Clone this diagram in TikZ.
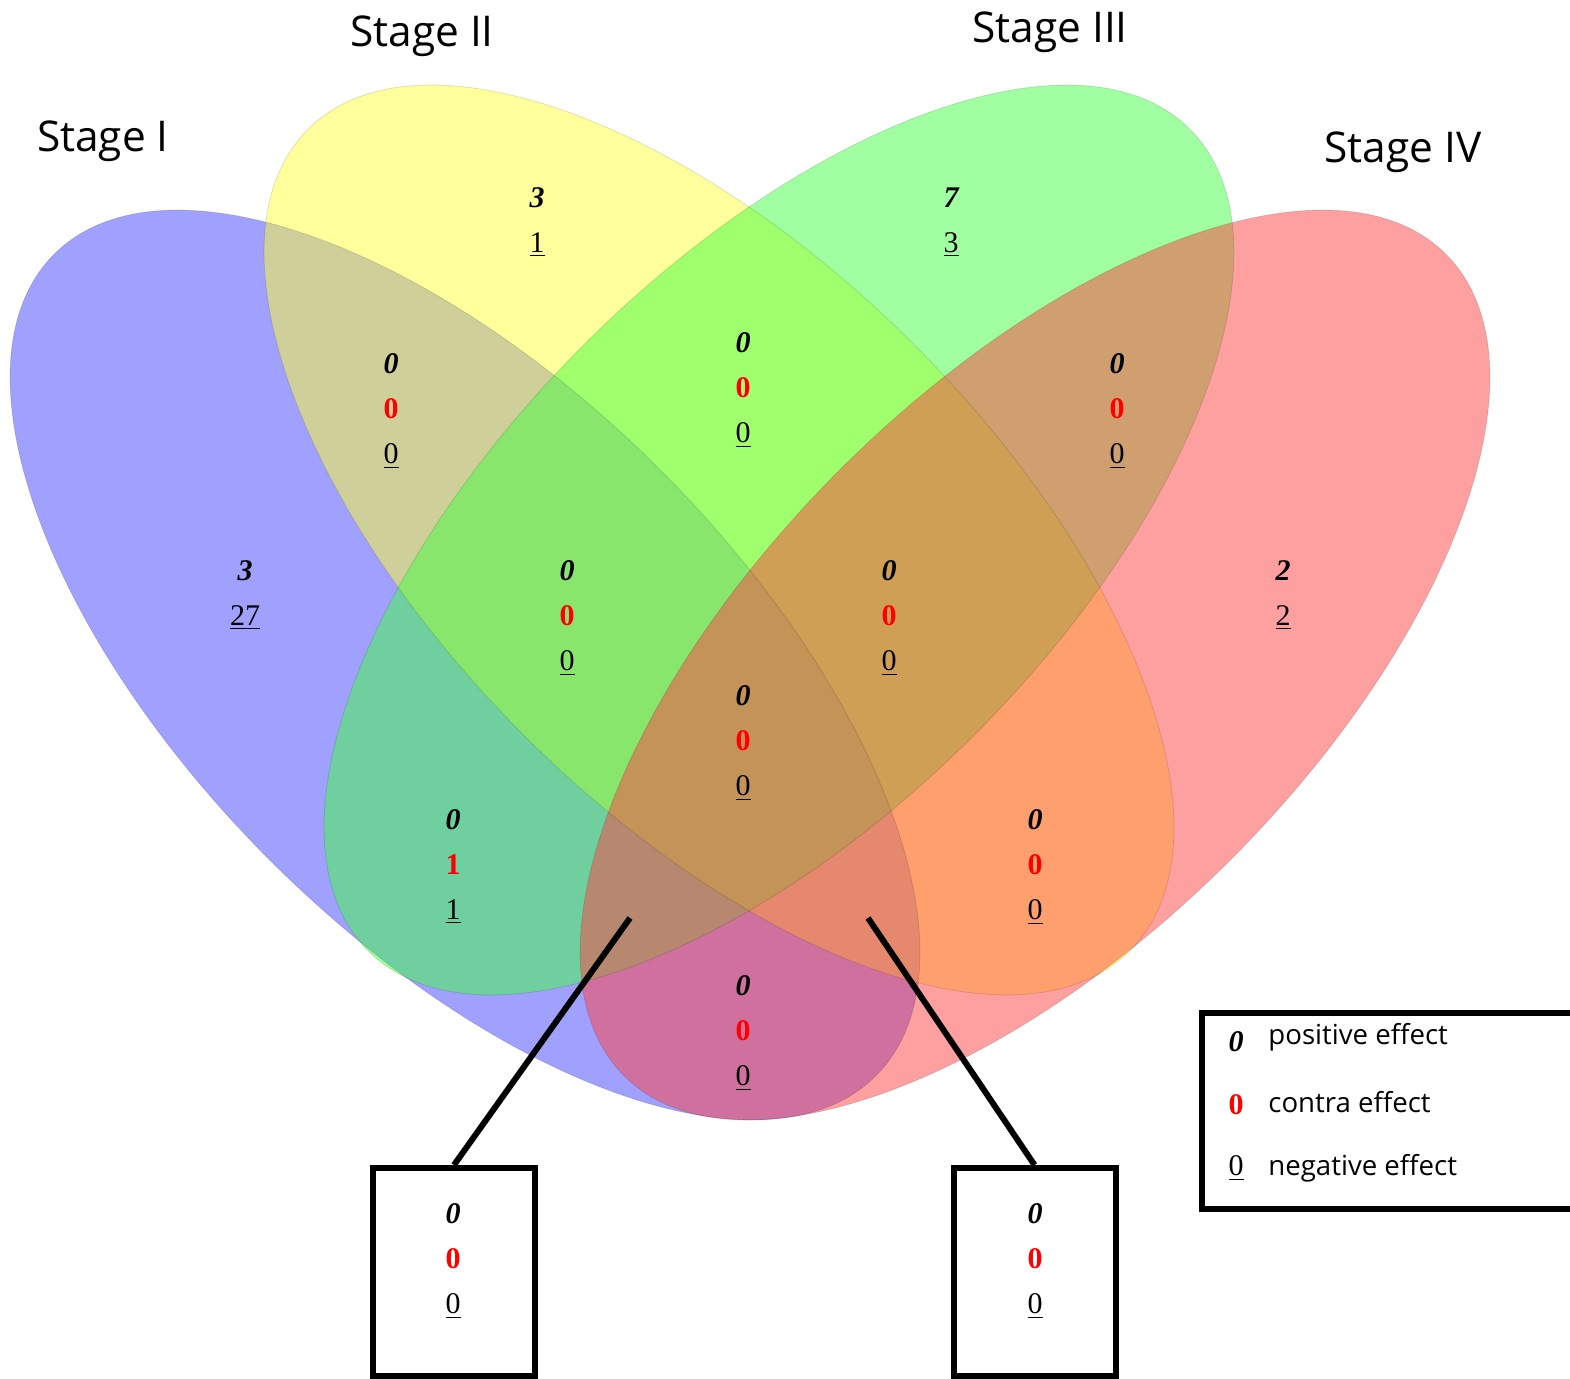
\documentclass[tikz,border=0pt]{standalone}
\usepackage{fontspec}
\setmainfont{Liberation Serif}
\newfontfamily\labfont{Open Sans}
\newcommand{\pv}[1]{{\bfseries\itshape #1}}
\newcommand{\cv}[1]{{\bfseries\color{red}#1}}
\newcommand{\nv}[1]{\underline{#1}}
\begin{document}
\begin{tikzpicture}[x=0.5pt,y=0.5pt]
\useasboundingbox (0,0) rectangle (1570,-1379);
\tikzset{
  setfill/.style={fill opacity=0.5},
  setline/.style={draw=black, draw opacity=0.12, line width=0.4pt},
  stagelab/.style={font=\labfont\fontsize{21.2}{25}\selectfont, inner sep=0pt},
  cnt/.style={font=\fontsize{15}{22.5}\selectfont, align=center, inner sep=0pt},
  thickbox/.style={draw, line width=3pt, minimum width=81pt, minimum height=104pt, inner sep=0pt},
  lead/.style={line width=3pt},
  legtext/.style={font=\labfont\fontsize{13.8}{16}\selectfont, anchor=west, inner sep=0pt},
  legsym/.style={font=\fontsize{15}{18}\selectfont, inner sep=0pt}
}
\definecolor{cA}{RGB}{65,65,255}
\definecolor{cB}{RGB}{255,255,55}
\definecolor{cC}{RGB}{65,255,65}
\definecolor{cD}{RGB}{255,65,65}
% ellipses
\fill[setfill, fill=cA] (465,-665) ellipse [x radius=581, y radius=276, rotate=-45];
\fill[setfill, fill=cB] (719,-540) ellipse [x radius=581, y radius=276, rotate=-45];
\fill[setfill, fill=cC] (779,-540) ellipse [x radius=581, y radius=276, rotate=45];
\fill[setfill, fill=cD] (1035,-665) ellipse [x radius=581, y radius=276, rotate=45];
\draw[setline] (465,-665) ellipse [x radius=581, y radius=276, rotate=-45];
\draw[setline] (719,-540) ellipse [x radius=581, y radius=276, rotate=-45];
\draw[setline] (779,-540) ellipse [x radius=581, y radius=276, rotate=45];
\draw[setline] (1035,-665) ellipse [x radius=581, y radius=276, rotate=45];
% stage labels
\node[stagelab] (s1) at (103,-141) {Stage I};
\node[stagelab] (s2) at (422,-36) {Stage II};
\node[stagelab] (s3) at (1050,-32) {Stage III};
\node[stagelab] (s4) at (1403,-152) {Stage IV};
% counts
\node[cnt] (rA) at (245,-595) {\pv{3}\\\nv{27}};
\node[cnt] (rB) at (537,-222) {\pv{3}\\\nv{1}};
\node[cnt] (rC) at (951,-222) {\pv{7}\\\nv{3}};
\node[cnt] (rD) at (1283,-595) {\pv{2}\\\nv{2}};
\node[cnt] (rAB) at (391,-411) {\pv{0}\\\cv{0}\\\nv{0}};
\node[cnt] (rBC) at (743,-390) {\pv{0}\\\cv{0}\\\nv{0}};
\node[cnt] (rCD) at (1117,-411) {\pv{0}\\\cv{0}\\\nv{0}};
\node[cnt] (rABC) at (567,-618) {\pv{0}\\\cv{0}\\\nv{0}};
\node[cnt] (rBCD) at (889,-618) {\pv{0}\\\cv{0}\\\nv{0}};
\node[cnt] (rABCD) at (743,-743) {\pv{0}\\\cv{0}\\\nv{0}};
\node[cnt] (rAC) at (453,-867) {\pv{0}\\\cv{1}\\\nv{1}};
\node[cnt] (rBD) at (1035,-867) {\pv{0}\\\cv{0}\\\nv{0}};
\node[cnt] (rAD) at (743,-1033) {\pv{0}\\\cv{0}\\\nv{0}};
% callout boxes
\node[thickbox] (lbox) at (454,-1272) {};
\node[thickbox] (rbox) at (1034.5,-1272) {};
\node[cnt] (rACD) at (453,-1261) {\pv{0}\\\cv{0}\\\nv{0}};
\node[cnt] (rABD) at (1035,-1261) {\pv{0}\\\cv{0}\\\nv{0}};
\coordinate (lp) at (630,-918);
\coordinate (rp) at (868,-918);
\draw[lead] (lp) -- (lbox.north);
\draw[lead] (rp) -- (rbox.north);
% legend
\node[draw, line width=3pt, minimum width=190pt, minimum height=98pt, anchor=north west, inner sep=0pt] (legend) at (1199,-1010) {};
\node[legsym] (l1) at (1236,-1042) {\pv{0}};
\node[legsym] (l2) at (1236,-1105) {\cv{0}};
\node[legsym] (l3) at (1236,-1168) {\nv{0}};
\node[legtext] (t1) at (1268,-1037) {positive effect};
\node[legtext] (t2) at (1268,-1102) {contra effect};
\node[legtext] (t3) at (1268,-1168) {negative effect};
\end{tikzpicture}
\end{document}
